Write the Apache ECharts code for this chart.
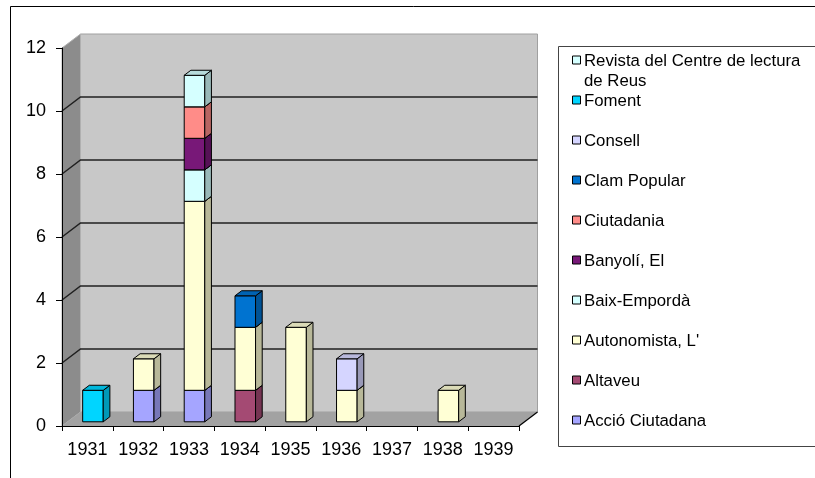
<!DOCTYPE html>
<html>
<head>
<meta charset="utf-8">
<script src="https://cdn.jsdelivr.net/npm/echarts@6/dist/echarts.min.js"></script>
<style>
  html, body { margin: 0; padding: 0; background: #fff; }
  #chart { width: 815px; height: 478px; }
</style>
</head>
<body>
<div id="chart"></div>
<script>
// data
const years = ['1931', '1932', '1933', '1934', '1935', '1936', '1937', '1938', '1939'];
const seriesNames = [
  'Acció Ciutadana', 'Altaveu', "Autonomista, L'", 'Baix-Empordà', 'Banyolí, El',
  'Ciutadania', 'Clam Popular', 'Consell', 'Foment', 'Revista del Centre de lectura de Reus'
];
const seriesColors = [
  '#A5A5FF', '#A44A73', '#FFFFD5', '#D5FFFF', '#781878',
  '#FF8C88', '#0073D0', '#D5D5FF', '#00D5FF', '#D5FFFF'
];
const accioCiutadana = [0, 1, 1, 0, 0, 0, 0, 0, 0];
const altaveu        = [0, 0, 0, 1, 0, 0, 0, 0, 0];
const autonomista    = [0, 1, 6, 2, 3, 1, 0, 1, 0];
const baixEmporda    = [0, 0, 1, 0, 0, 0, 0, 0, 0];
const banyoli        = [0, 0, 1, 0, 0, 0, 0, 0, 0];
const ciutadania     = [0, 0, 1, 0, 0, 0, 0, 0, 0];
const clamPopular    = [0, 0, 0, 1, 0, 0, 0, 0, 0];
const consell        = [0, 0, 0, 0, 0, 1, 0, 0, 0];
const foment         = [1, 0, 0, 0, 0, 0, 0, 0, 0];
const revista        = [0, 0, 1, 0, 0, 0, 0, 0, 0];
const seriesValues = [accioCiutadana, altaveu, autonomista, baixEmporda, banyoli,
  ciutadania, clamPopular, consell, foment, revista];
const gridTicks = [2, 4, 6, 8, 10];

// fake 3d look
const DEPTH = [18.5, -14];
const BAR_FRONT = 0.3, BAR_BACK = 0.66, BAR_RATIO = 0.405;
const FONT = "'Liberation Sans', Arial, sans-serif";

function shade(hex, k) {
  const n = parseInt(hex.slice(1), 16);
  const r = Math.round(((n >> 16) & 255) * k);
  const g = Math.round(((n >> 8) & 255) * k);
  const b = Math.round((n & 255) * k);
  return 'rgb(' + r + ',' + g + ',' + b + ')';
}

function renderWalls(params, api) {
  const cs = params.coordSys;
  const x0 = cs.x, x1 = cs.x + cs.width, yb = cs.y + cs.height, yt = cs.y;
  const dx = DEPTH[0], dy = DEPTH[1];
  const children = [
    { type: 'polygon', shape: { points: [[x0 + dx, yt + dy], [x1 + dx, yt + dy], [x1 + dx, yb + dy], [x0 + dx, yb + dy]] },
      style: { fill: '#C8C8C8', stroke: '#A0A0A0', lineWidth: 1 } },
    { type: 'polygon', shape: { points: [[x0, yb], [x0, yt], [x0 + dx, yt + dy], [x0 + dx, yb + dy]] },
      style: { fill: '#8C8C8C', stroke: '#B0B0B0', lineWidth: 1 } },
    { type: 'polygon', shape: { points: [[x0, yb], [x1, yb], [x1 + dx, yb + dy], [x0 + dx, yb + dy]] },
      style: { fill: '#A2A2A2' } },
    { type: 'line', shape: { x1: x1, y1: yb, x2: x1 + dx, y2: yb + dy },
      style: { stroke: '#000', lineWidth: 1.2 } }
  ];
  gridTicks.forEach(v => {
    const y = api.coord([0, v])[1];
    children.push({ type: 'polyline', shape: { points: [[x0, y], [x0 + dx, y + dy], [x1 + dx, y + dy]] },
      style: { stroke: '#202020', lineWidth: 1.5, fill: null } });
  });
  return { type: 'group', children: children };
}

function renderBar(params, api) {
  const cat = api.value(0), base = api.value(1), val = api.value(2);
  if (!val) return;
  const w = api.size([1, 0])[0] * BAR_RATIO;
  const b = api.coord([cat, base]);
  const t = api.coord([cat, base + val]);
  const fx = b[0] + DEPTH[0] * BAR_FRONT - w / 2;
  const fy0 = b[1] + DEPTH[1] * BAR_FRONT;
  const fy1 = t[1] + DEPTH[1] * BAR_FRONT;
  const dx = DEPTH[0] * (BAR_BACK - BAR_FRONT), dy = DEPTH[1] * (BAR_BACK - BAR_FRONT);
  const color = seriesColors[params.seriesIndex - 1];
  const edge = { stroke: '#000', lineWidth: 1, lineJoin: 'round' };
  return { type: 'group', children: [
    { type: 'rect', shape: { x: fx, y: fy1, width: w, height: fy0 - fy1 }, style: Object.assign({ fill: color }, edge) },
    { type: 'polygon', shape: { points: [[fx + w, fy0], [fx + w, fy1], [fx + w + dx, fy1 + dy], [fx + w + dx, fy0 + dy]] },
      style: Object.assign({ fill: shade(color, 0.72) }, edge) },
    { type: 'polygon', shape: { points: [[fx, fy1], [fx + w, fy1], [fx + w + dx, fy1 + dy], [fx + dx, fy1 + dy]] },
      style: Object.assign({ fill: shade(color, 0.86) }, edge) }
  ] };
}

const stackBase = years.map(() => 0);
const barSeries = seriesNames.map((name, si) => {
  const data = [];
  seriesValues[si].forEach((v, i) => {
    if (v > 0) data.push([i, stackBase[i], v]);
    stackBase[i] += v;
  });
  return {
    name: name, type: 'custom', renderItem: renderBar, z: 3,
    itemStyle: { color: seriesColors[si] },
    encode: { x: 0, y: [1, 2] }, data: data
  };
});

// legend drawn by hand, Excel style: reversed order, 40px pitch
const legendItems = [];
legendItems.push({ type: 'rect', shape: { x: 558.5, y: 46.5, width: 300, height: 400 },
  style: { fill: '#fff', stroke: '#444', lineWidth: 1 } });
seriesNames.slice().reverse().forEach((name, k) => {
  const ci = seriesNames.length - 1 - k;
  const cy = 60.5 + 40 * k;
  const label = name === 'Revista del Centre de lectura de Reus' ? 'Revista del Centre de lectura\nde Reus' : name;
  legendItems.push({ type: 'rect', shape: { x: 572.5, y: cy - 4.5, width: 8, height: 8 },
    style: { fill: seriesColors[ci], stroke: '#000', lineWidth: 1 } });
  legendItems.push({ type: 'text', x: 584, y: cy - 9,
    style: { text: label, fill: '#000', font: '16.8px ' + FONT, lineHeight: 20, verticalAlign: 'top' } });
});

const chart = echarts.init(document.getElementById('chart'));
chart.setOption({
  animation: false,
  backgroundColor: '#fff',
  grid: { left: 62, top: 48, width: 457, height: 378 },
  xAxis: {
    type: 'category', data: years, z: 5,
    axisLine: { lineStyle: { color: '#000', width: 1 } },
    axisTick: { show: true, length: 5, lineStyle: { color: '#000' } },
    axisLabel: { color: '#000', fontSize: 18, fontFamily: FONT, margin: 15, interval: 0 },
    splitLine: { show: false }
  },
  yAxis: {
    type: 'value', min: 0, max: 12, interval: 2, z: 5,
    axisLine: { show: true, lineStyle: { color: '#000', width: 1 } },
    axisTick: { show: true, length: 6, lineStyle: { color: '#000' } },
    axisLabel: { color: '#000', fontSize: 18, fontFamily: FONT, margin: 16 },
    splitLine: { show: false }
  },
  graphic: [
    { type: 'rect', shape: { x: 10.5, y: 6.5, width: 900, height: 600 }, silent: true,
      style: { fill: null, stroke: '#000', lineWidth: 1 } },
    { type: 'group', children: legendItems }
  ],
  series: [
    { type: 'custom', name: 'walls', renderItem: renderWalls, silent: true, z: 1,
      data: [[0, 0]], encode: { x: 0, y: 1 } }
  ].concat(barSeries)
});
</script>
</body>
</html>
